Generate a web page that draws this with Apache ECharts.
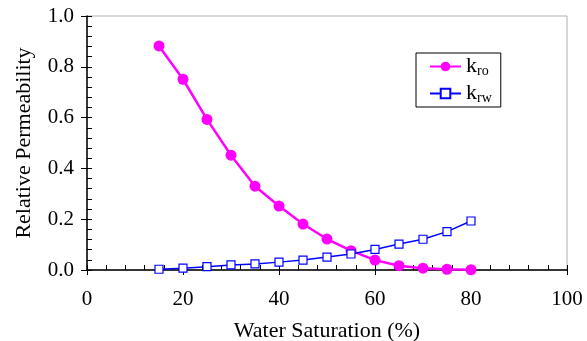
<!DOCTYPE html>
<html>
<head>
<meta charset="utf-8">
<script src="https://cdn.jsdelivr.net/npm/echarts@6/dist/echarts.min.js"></script>
<style>
  html, body { margin: 0; padding: 0; background: #fff; }
  #chart { width: 587px; height: 341px; }
</style>
</head>
<body>
<div id="chart"></div>
<script>
const saturation = [15, 20, 25, 30, 35, 40, 45, 50, 55, 60, 65, 70, 75, 80]
const kro = [0.882, 0.751, 0.593, 0.452, 0.330, 0.252, 0.181, 0.122, 0.076, 0.039, 0.017, 0.007, 0.003, 0.001]
const krw = [0.003, 0.007, 0.013, 0.020, 0.024, 0.031, 0.039, 0.051, 0.063, 0.081, 0.102, 0.121, 0.151, 0.193]

const font = "Liberation Serif"
const myChart = echarts.init(document.getElementById("chart"))

const pairs = (ys) => saturation.map((x, i) => [x, ys[i]])

myChart.setOption({
  animation: false,
  grid: {
    left: 87, right: 20, top: 16, bottom: 71,
    outerBoundsMode: "none", containLabel: false,
    show: true, borderColor: "#b0b0b0", borderWidth: 1
  },
  legend: {
    left: 416, top: 53,
    orient: "vertical",
    borderColor: "#000", borderWidth: 1,
    padding: [2, 9, 2, 13],
    itemWidth: 31, itemHeight: 12, itemGap: 4,
    formatter: (name) => name === "kro" ? "{k|k}{s|ro}" : "{k|k}{s|rw}",
    textStyle: {
      rich: {
        k: { fontFamily: font, fontSize: 22, lineHeight: 24, color: "#000" },
        s: { fontFamily: font, fontSize: 14, lineHeight: 24, color: "#000", padding: [9, 0, 0, 0] }
      }
    },
    data: ["kro", "krw"]
  },
  xAxis: [
    {
      type: "value", min: 0, max: 100, interval: 20,
      name: "Water Saturation (%)", nameLocation: "middle", nameGap: 50,
      nameTextStyle: { fontFamily: font, fontSize: 22, color: "#000" },
      axisLine: { lineStyle: { color: "#000", width: 1.5 } },
      axisTick: { show: true, inside: false, length: 5, lineStyle: { color: "#000" } },
      axisLabel: { fontFamily: font, fontSize: 21, color: "#000", margin: 19 },
      splitLine: { show: false }
    },
    {
      type: "value", min: 0, max: 100, interval: 4, position: "bottom",
      axisLine: { show: false },
      axisTick: { show: true, inside: true, length: 5, lineStyle: { color: "#000" } },
      axisLabel: { show: false },
      splitLine: { show: false }
    }
  ],
  yAxis: [
    {
      type: "value", min: 0, max: 1, interval: 0.2,
      name: "Relative Permeability", nameLocation: "middle", nameGap: 52,
      nameTextStyle: { fontFamily: font, fontSize: 22, color: "#000" },
      axisLine: { show: true, lineStyle: { color: "#000", width: 1.5 } },
      axisTick: { show: true, inside: false, length: 6, lineStyle: { color: "#000" } },
      axisLabel: { fontFamily: font, fontSize: 21, color: "#000", margin: 13, formatter: (v) => v.toFixed(1) },
      splitLine: { show: false }
    },
    {
      type: "value", min: 0, max: 1, interval: 0.04, position: "left",
      axisLine: { show: false },
      axisTick: { show: true, inside: true, length: 5, lineStyle: { color: "#000" } },
      axisLabel: { show: false },
      splitLine: { show: false }
    }
  ],
  series: [
    {
      name: "kro", type: "line", data: pairs(kro),
      symbol: "circle", symbolSize: 11,
      lineStyle: { color: "#ff00ff", width: 2.5 },
      itemStyle: { color: "#ff00ff" }
    },
    {
      name: "krw", type: "line", data: pairs(krw),
      symbol: "rect", symbolSize: 8,
      lineStyle: { color: "#0000ff", width: 1.5 },
      itemStyle: { color: "#fff", borderColor: "#0000ff", borderWidth: 1.2 }
    }
  ]
})
</script>
</body>
</html>
